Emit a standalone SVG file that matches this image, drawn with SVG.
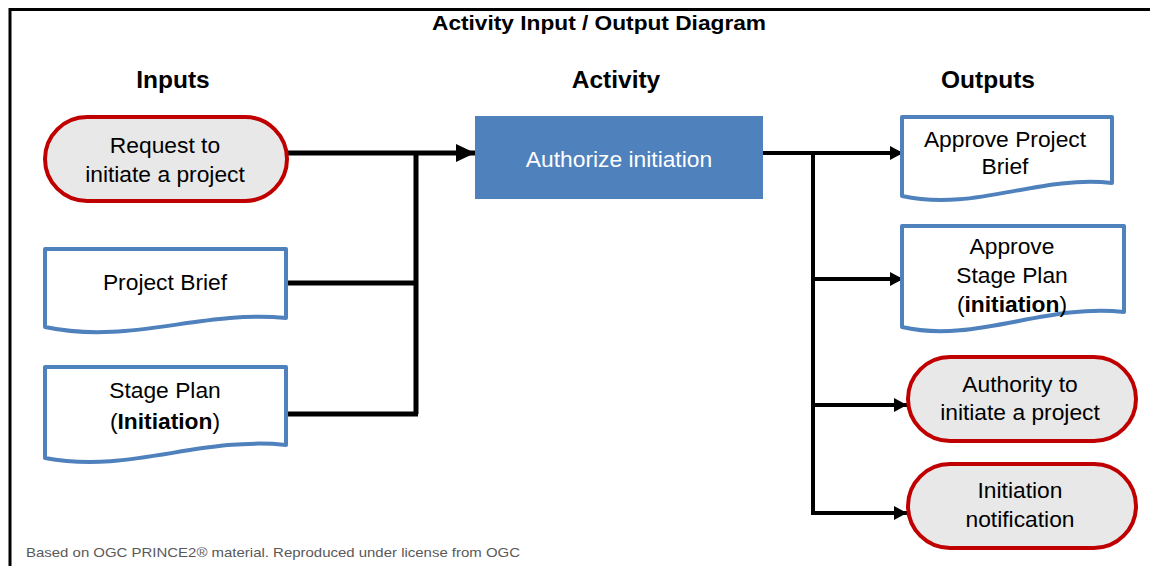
<svg xmlns="http://www.w3.org/2000/svg" width="1150" height="566" viewBox="0 0 1150 566">
<defs>
<style>
.t{font-family:"Liberation Sans",Arial,sans-serif;font-size:22.8px;fill:#000;text-anchor:middle}
.h{font-family:"Liberation Sans",Arial,sans-serif;font-size:24.5px;font-weight:bold;fill:#000;text-anchor:middle}
.b{font-weight:bold}
.pill{fill:#e8e8e8;stroke:#c00000;stroke-width:4}
.doc{fill:#fff;stroke:#4f81bd;stroke-width:4;stroke-linejoin:round}
.c1{fill:none;stroke:#000;stroke-width:5}
.c2{fill:none;stroke:#000;stroke-width:4}
</style>
<marker id="a1" markerUnits="userSpaceOnUse" markerWidth="20" markerHeight="20" refX="19" refY="10" orient="auto">
<path d="M0,1 L19,10 L0,19 Z" fill="#000"/>
</marker>
<marker id="a2" markerUnits="userSpaceOnUse" markerWidth="14" markerHeight="16" refX="13" refY="8" orient="auto">
<path d="M0,1 L13,8 L0,15 Z" fill="#000"/>
</marker>
</defs>
<rect width="1150" height="566" fill="#fff"/>
<path d="M10,566 V9.5 H1150" fill="none" stroke="#000" stroke-width="3"/>
<text x="599" y="30" class="h" style="font-size:20px" textLength="334" lengthAdjust="spacingAndGlyphs">Activity Input / Output Diagram</text>
<text x="173" y="88" class="h">Inputs</text>
<text x="616" y="88" class="h">Activity</text>
<text x="988" y="88" class="h">Outputs</text>

<g id="connectors">
<path class="c1" d="M287,153 H475" marker-end="url(#a1)"/>
<path class="c1" d="M416,153 V414"/>
<path class="c1" d="M286,283 H416"/>
<path class="c1" d="M286,414 H418"/>
<path class="c2" d="M763,153 H903" marker-end="url(#a2)"/>
<path class="c2" d="M813,153 V513"/>
<path class="c2" d="M813,279 H903" marker-end="url(#a2)"/>
<path class="c2" d="M813,405 H907" marker-end="url(#a2)"/>
<path class="c2" d="M811,513 H907" marker-end="url(#a2)"/>
</g>

<g id="request">
<rect class="pill" x="45" y="117" width="242" height="84" rx="42"/>
<text class="t" x="165" y="153">Request to</text>
<text class="t" x="165" y="182">initiate a project</text>
</g>
<g id="project-brief">
<path class="doc" d="M45,249 H286 V318 C200,310 130,345 45,327 Z"/>
<text class="t" x="165" y="290">Project Brief</text>
</g>
<g id="stage-plan">
<path class="doc" d="M45,367 H286 V445 C200,436 130,474 45,458 Z"/>
<text class="t" x="165" y="398">Stage Plan</text>
<text class="t" x="165" y="429">(<tspan class="b">Initiation</tspan>)</text>
</g>
<g id="activity">
<rect x="475" y="116" width="288" height="83" fill="#4f81bd"/>
<text class="t" x="619" y="167" style="fill:#fff">Authorize initiation</text>
</g>
<g id="approve-project-brief">
<path class="doc" d="M902,117 H1112 V183 C1037,175 975,212 902,196 Z"/>
<text class="t" x="1005" y="147">Approve Project</text>
<text class="t" x="1005" y="174">Brief</text>
</g>
<g id="approve-stage-plan">
<path class="doc" d="M902,226 H1124 V312 C1045,303 975,344 902,327 Z"/>
<text class="t" x="1012" y="254">Approve</text>
<text class="t" x="1012" y="283">Stage Plan</text>
<text class="t" x="1012" y="312">(<tspan class="b">initiation</tspan>)</text>
</g>
<g id="authority">
<rect class="pill" x="908" y="357" width="228" height="84" rx="42"/>
<text class="t" x="1020" y="392">Authority to</text>
<text class="t" x="1020" y="420">initiate a project</text>
</g>
<g id="notification">
<rect class="pill" x="908" y="464" width="228" height="84" rx="42"/>
<text class="t" x="1020" y="498">Initiation</text>
<text class="t" x="1020" y="527">notification</text>
</g>
<text x="26" y="557" style="font-family:'Liberation Sans',Arial,sans-serif;font-size:13px;fill:#595959" textLength="494" lengthAdjust="spacingAndGlyphs">Based on OGC PRINCE2® material. Reproduced under license from OGC</text>
</svg>
